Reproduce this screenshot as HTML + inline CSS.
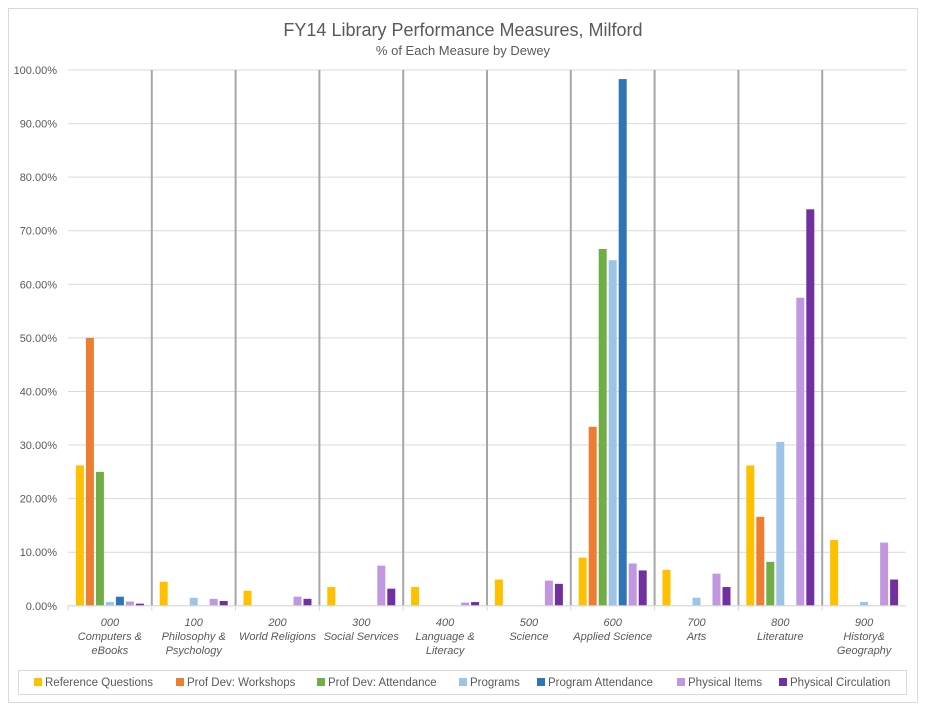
<!DOCTYPE html>
<html><head><meta charset="utf-8"><style>
body{margin:0;background:#fff;}
svg{display:block;font-family:"Liberation Sans",sans-serif;}
</style></head><body>
<svg id="chart" width="927" height="710">
<rect x="8.5" y="8.5" width="909" height="694" fill="#fff" stroke="#d9d9d9"/>
<text x="463" y="36" text-anchor="middle" font-size="18" fill="#595959">FY14 Library Performance Measures, Milford</text>
<text x="463" y="55" text-anchor="middle" font-size="13" fill="#595959">% of Each Measure by Dewey</text>
<g id="grid"></g><g id="bars"></g><g id="axes"></g>
<rect x="18.5" y="670.5" width="888" height="24" fill="none" stroke="#d9d9d9"/>
<g id="legend"></g>
</svg>
<script>
const categories=[["000","Computers &","eBooks"],["100","Philosophy &","Psychology"],["200","World Religions"],["300","Social Services"],["400","Language &","Literacy"],["500","Science"],["600","Applied Science"],["700","Arts"],["800","Literature"],["900","History&","Geography"]];
const seriesNames=["Reference Questions","Prof Dev: Workshops","Prof Dev: Attendance","Programs","Program Attendance","Physical Items","Physical Circulation"];
const refQuestions=[26.2,4.5,2.8,3.5,3.5,4.9,9.0,6.7,26.2,12.3];
const workshops=[50,0,0,0,0,0,33.4,0,16.6,0];
const attendance=[25,0,0,0,0,0,66.6,0,8.2,0];
const programs=[0.7,1.5,0,0,0,0,64.5,1.5,30.6,0.7];
const programAttendance=[1.7,0,0,0,0,0,98.3,0,0,0];
const physicalItems=[0.8,1.3,1.7,7.5,0.6,4.7,7.9,6.0,57.5,11.8];
const physicalCirculation=[0.4,0.9,1.3,3.2,0.7,4.1,6.6,3.5,74,4.9];
const yTicks=[0,10,20,30,40,50,60,70,80,90,100];
const series=[refQuestions,workshops,attendance,programs,programAttendance,physicalItems,physicalCirculation];
const colors=["#ffc000","#ed7d31","#70ad47","#9dc3e6","#2e75b6","#c198e0","#7030a0"];
const NS="http://www.w3.org/2000/svg";
const X0=68,X1=906,Y0=605.8,Y1=70;
const cw=(X1-X0)/categories.length;
const y=v=>Y0-(v/100)*(Y0-Y1);
function mk(tag,attrs,parent){const e=document.createElementNS(NS,tag);for(const k in attrs)e.setAttribute(k,attrs[k]);parent.appendChild(e);return e;}
const grid=document.getElementById('grid'),bars=document.getElementById('bars'),axes=document.getElementById('axes'),legend=document.getElementById('legend');
yTicks.forEach(t=>{
 const l=mk('line',{x1:X0,x2:X1,y1:y(t),y2:y(t),stroke:'#d9d9d9'},grid);
 
 
 const tx=mk('text',{x:57,y:y(t)+4,'text-anchor':'end','font-size':11,fill:'#595959'},axes);
 tx.textContent=t.toFixed(2)+'%';
 
 
});
for(let i=1;i<categories.length;i++){
 const l=mk('line',{x1:X0+i*cw,x2:X0+i*cw,y1:Y1,y2:Y0,stroke:'#a6a6a6','stroke-width':2},grid);
 
 
}
const bw=8,slot=10;
categories.forEach((c,i)=>{
 const start=X0+i*cw+(cw-7*slot)/2+1;
 series.forEach((s,j)=>{
  const v=s[i]; if(!v)return;
  const r=mk('rect',{x:start+j*slot,y:y(v),width:bw,height:Y0-y(v),fill:colors[j]},bars);
  
  
 });
 const cx=X0+(i+0.5)*cw;
 c.forEach((line,k)=>{
  const t=mk('text',{x:cx,y:640+k*14-(c.length>1?0:0)-14,'text-anchor':'middle','font-size':11,'font-style':'italic',fill:'#595959'},axes);
  t.textContent=line;
  
  
 });
 const tk=mk('line',{x1:X0+i*cw,x2:X0+i*cw,y1:Y0,y2:Y0+5,stroke:'#d9d9d9'},axes);
 
 
});
const ax=mk('line',{x1:X0,x2:X1,y1:Y0,y2:Y0,stroke:'#d9d9d9'},axes);


const legXs=[34,176,317,459,537,677,779];
seriesNames.forEach((n,j)=>{
 const g=mk('g',{},legend);
 
 
 mk('rect',{x:legXs[j],y:678,width:8,height:8,fill:colors[j]},g);
 const t=mk('text',{x:legXs[j]+11,y:686,'font-size':11.5,fill:'#595959'},g);
 t.textContent=n;
});
</script>
</body></html>
